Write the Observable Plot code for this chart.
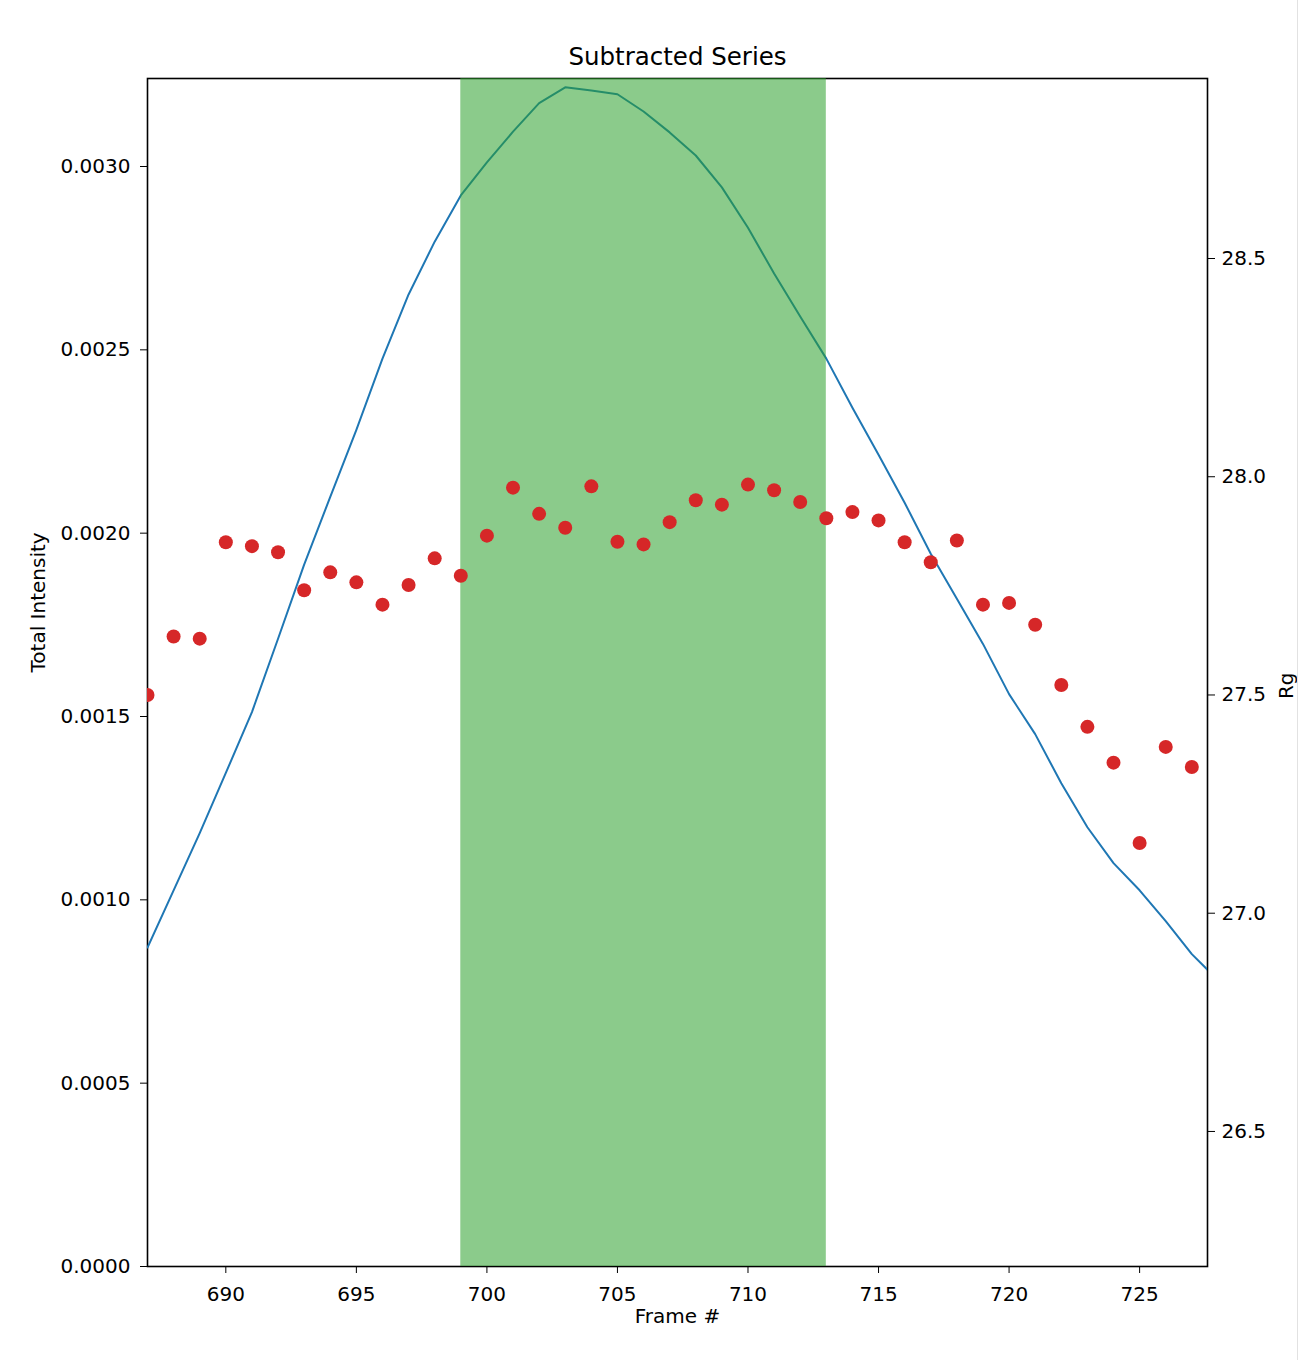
<!DOCTYPE html>
<html>
<head>
<meta charset="utf-8">
<script src="https://cdn.jsdelivr.net/npm/d3@7"></script>
<script src="https://cdn.jsdelivr.net/npm/@observablehq/plot@0.6"></script>
<style>
  html, body { margin: 0; padding: 0; background: #fff; }
  #chart { position: absolute; left: 0; top: 0; }
  #edge { position: fixed; left: 1297px; top: 0; width: 1px; height: 1360px; background: #e2e2e2; }
</style>
</head>
<body>
<div id="chart"></div>
<div id="edge"></div>
<script>
// Frame numbers (x)
const frames = [687, 688, 689, 690, 691, 692, 693, 694, 695, 696, 697, 698, 699, 700,
  701, 702, 703, 704, 705, 706, 707, 708, 709, 710, 711, 712, 713, 714,
  715, 716, 717, 718, 719, 720, 721, 722, 723, 724, 725, 726, 727, 728];

// Total intensity (left axis, blue line)
const intensity = [0.000870, 0.001026, 0.001182, 0.001346, 0.001512, 0.001712, 0.001914,
  0.002099, 0.002282, 0.002476, 0.002651, 0.002795, 0.002921, 0.003011, 0.003095,
  0.003173, 0.003216, 0.003207, 0.003197, 0.003150, 0.003093, 0.003030, 0.002943,
  0.002833, 0.002708, 0.002591, 0.002476, 0.002342, 0.002214, 0.002083, 0.001944,
  0.001821, 0.001698, 0.001561, 0.001452, 0.001318, 0.001198, 0.001100, 0.001026,
  0.000942, 0.000852, 0.000781];

// Rg (right axis, red dots) for frames 687..727
const rgFrames = frames.slice(0, 41);
const rg = [27.500, 27.634, 27.629, 27.850, 27.841, 27.827, 27.740, 27.781, 27.758,
  27.707, 27.752, 27.813, 27.773, 27.865, 27.975, 27.915, 27.883, 27.978, 27.851,
  27.845, 27.896, 27.946, 27.936, 27.982, 27.969, 27.942, 27.905, 27.919, 27.900,
  27.850, 27.804, 27.854, 27.707, 27.711, 27.661, 27.523, 27.427, 27.345, 27.161,
  27.381, 27.335];

// Highlighted frame range
const spanStart = 699;
const spanEnd = 713;

// Axis domains and ticks
const xDomain = [687, 727.6];
const yDomain = [0, 0.00324];
const rgDomain = [26.1906, 28.9124];
const xTicks = [690, 695, 700, 705, 710, 715, 720, 725];
const yTicks = [0, 0.0005, 0.001, 0.0015, 0.002, 0.0025, 0.003];
const rgTicks = [26.5, 27.0, 27.5, 28.0, 28.5];

const toY = d3.scaleLinear().domain(rgDomain).range(yDomain);

const lineData = frames.map((f, i) => ({frame: f, value: intensity[i]}));
const dotData = rgFrames.map((f, i) => ({frame: f, value: toY(rg[i])}));

const font = "DejaVu Sans, sans-serif";

const chart = Plot.plot({
  width: 1300,
  height: 1360,
  marginLeft: 147,
  marginRight: 93,
  marginTop: 78,
  marginBottom: 94,
  style: {fontFamily: font, fontSize: "20px", color: "black", background: "white", overflow: "visible"},
  x: {domain: xDomain},
  y: {domain: yDomain},
  marks: [
    Plot.frame({stroke: "black", strokeWidth: 1.6}),
    Plot.line(lineData, {x: "frame", y: "value", stroke: "#1f77b4", strokeWidth: 2, clip: true}),
    Plot.rect([{a: spanStart, b: spanEnd}], {x1: "a", x2: "b", fill: "#2ca02c", fillOpacity: 0.55}),
    Plot.dot(dotData, {x: "frame", y: "value", r: 7, fill: "#d62728", stroke: "none", clip: true}),
    Plot.axisX(xTicks, {anchor: "bottom", tickSize: 7, tickPadding: 13, fontSize: 20, label: null, tickFormat: d => String(d)}),
    Plot.axisY(yTicks, {anchor: "left", tickSize: 7, tickPadding: 10, fontSize: 20, label: null, tickFormat: d => d.toFixed(4)}),
    Plot.axisY(rgTicks.map(t => toY(t)), {anchor: "right", tickSize: 7, tickPadding: 7, fontSize: 20, label: null,
      tickFormat: d => (Math.round(toY.invert(d) * 10) / 10).toFixed(1)}),
    Plot.text(["Subtracted Series"], {frameAnchor: "top", lineAnchor: "middle", dy: -21, fontSize: 24.5, fill: "black"}),
    Plot.text(["Frame #"], {frameAnchor: "bottom", lineAnchor: "middle", dy: 50, fontSize: 20, fill: "black"}),
    Plot.text(["Total Intensity"], {frameAnchor: "left", lineAnchor: "middle", dx: -109, rotate: -90, fontSize: 20, fill: "black"}),
    Plot.text(["Rg"], {frameAnchor: "right", lineAnchor: "middle", dx: 79, rotate: -90, fontSize: 20, fill: "black"})
  ]
});

document.getElementById("chart").appendChild(chart);
</script>
</body>
</html>
